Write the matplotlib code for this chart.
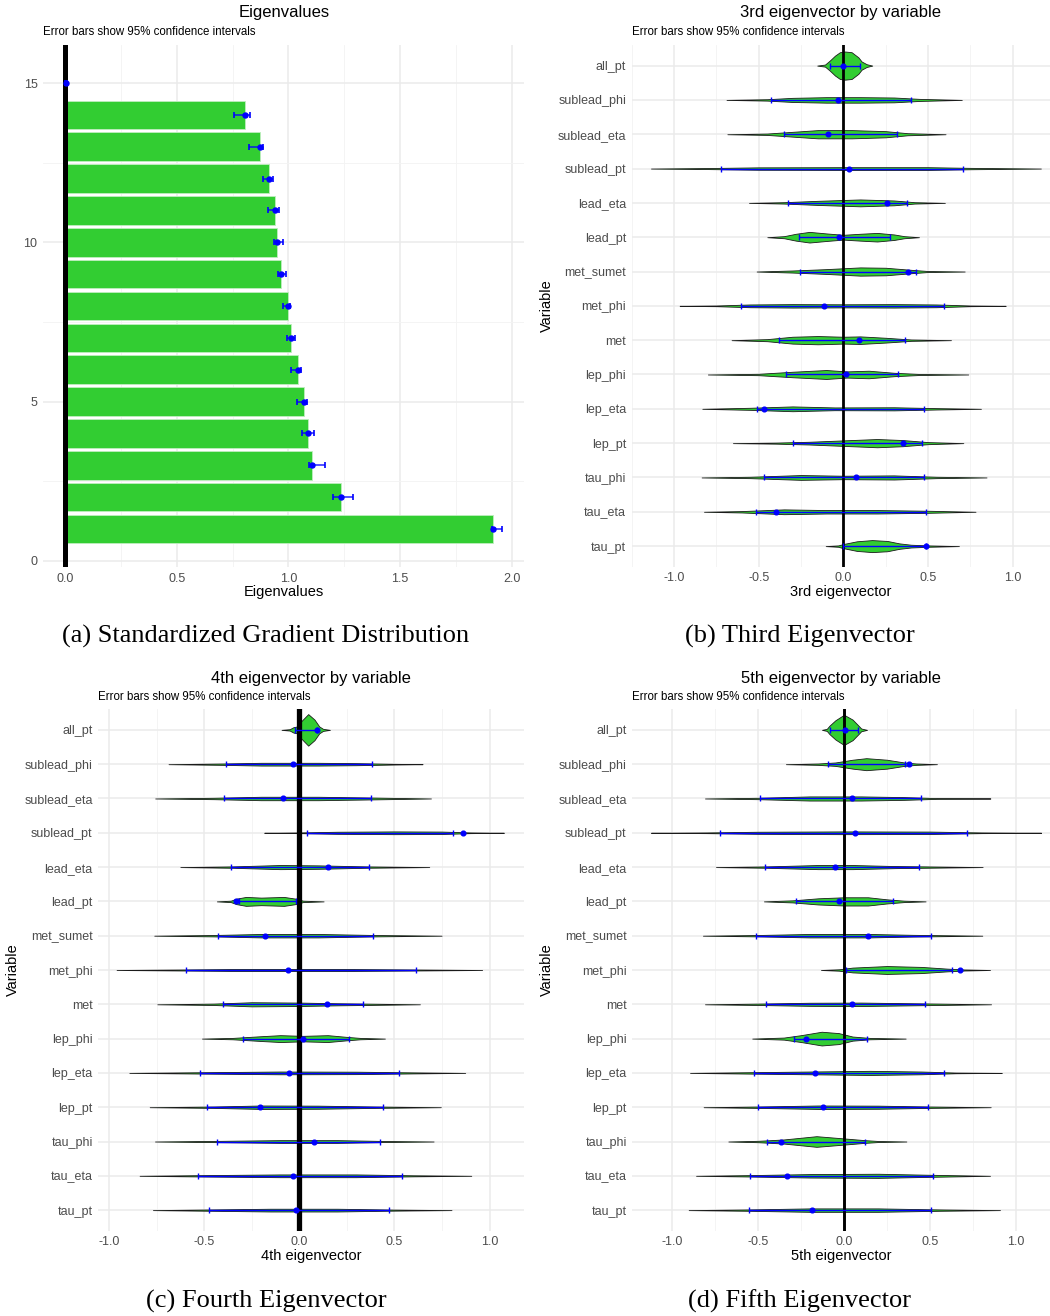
import matplotlib.pyplot as plt
import numpy as np
from matplotlib.ticker import MultipleLocator, FormatStrFormatter

plt.rcParams['font.family'] = ['Liberation Sans', 'DejaVu Sans']
plt.rcParams['axes.unicode_minus'] = False

# ---- data ----
rank = list(range(1, 16))
eig = [1.915, 1.235, 1.104, 1.088, 1.07, 1.044, 1.01, 0.999, 0.965, 0.947, 0.94, 0.914, 0.872, 0.805, 0.007]
eig_lo = [1.913, 1.20, 1.093, 1.06, 1.04, 1.01, 0.995, 0.976, 0.955, 0.935, 0.91, 0.886, 0.823, 0.757, 0.0]
eig_hi = [1.955, 1.29, 1.163, 1.115, 1.083, 1.056, 1.03, 1.008, 0.99, 0.975, 0.957, 0.932, 0.887, 0.826, 0.01]

variables = ['all_pt', 'sublead_phi', 'sublead_eta', 'sublead_pt', 'lead_eta', 'lead_pt',
             'met_sumet', 'met_phi', 'met', 'lep_phi', 'lep_eta', 'lep_pt',
             'tau_phi', 'tau_eta', 'tau_pt']

# violin outlines: (value, half width)
vec3_shape = [
    [(-0.154, 0), (-0.108, .03), (-0.079, .15), (-0.049, .29), (-0.02, .39), (0.01, .41), (0.049, .39), (0.089, .24), (0.108, .12), (0.138, .04), (0.171, 0)],
    [(-0.69, 0), (-0.45, .02), (-0.3, .06), (-0.1, .08), (0.1, .08), (0.3, .07), (0.45, .03), (0.70, 0)],
    [(-0.685, 0), (-0.45, .02), (-0.3, .07), (-0.15, .12), (0.05, .12), (0.25, .09), (0.38, .03), (0.604, 0)],
    [(-1.136, 0), (-0.8, .015), (-0.5, .035), (0.0, .04), (0.5, .04), (0.75, .02), (1.167, 0)],
    [(-0.557, 0), (-0.35, .02), (-0.15, .06), (0.1, .1), (0.3, .07), (0.42, .02), (0.6, 0)],
    [(-0.449, 0), (-0.35, .03), (-0.28, .1), (-0.2, .155), (-0.1, .11), (0.0, .07), (0.1, .1), (0.2, .125), (0.3, .08), (0.36, .03), (0.447, 0)],
    [(-0.512, 0), (-0.3, .03), (-0.1, .07), (0.1, .12), (0.25, .11), (0.4, .05), (0.5, .015), (0.717, 0)],
    [(-0.967, 0), (-0.75, .01), (-0.55, .04), (-0.3, .05), (0.0, .045), (0.3, .05), (0.55, .04), (0.75, .01), (0.959, 0)],
    [(-0.66, 0), (-0.45, .03), (-0.3, .1), (-0.15, .12), (0.0, .1), (0.1, .11), (0.25, .07), (0.4, .02), (0.636, 0)],
    [(-0.8, 0), (-0.5, .02), (-0.3, .08), (-0.1, .13), (0.02, .09), (0.15, .11), (0.3, .05), (0.45, .015), (0.738, 0)],
    [(-0.833, 0), (-0.55, .03), (-0.3, .07), (-0.05, .04), (0.3, .045), (0.55, .02), (0.813, 0)],
    [(-0.652, 0), (-0.4, .015), (-0.2, .04), (0.0, .08), (0.2, .12), (0.35, .09), (0.5, .03), (0.709, 0)],
    [(-0.837, 0), (-0.55, .02), (-0.25, .07), (0.0, .05), (0.3, .06), (0.55, .02), (0.846, 0)],
    [(-0.823, 0), (-0.6, .02), (-0.35, .07), (-0.1, .05), (0.2, .05), (0.5, .03), (0.781, 0)],
    [(-0.104, 0), (-0.03, .02), (0.0, .06), (0.08, .14), (0.17, .175), (0.26, .15), (0.33, .08), (0.4, .04), (0.5, .02), (0.683, 0)],
]
vec3_mean = [0.0, -0.033, -0.089, 0.035, 0.26, -0.024, 0.38, -0.114, 0.094, 0.016, -0.47, 0.354, 0.075, -0.40, 0.49]
vec3_lo = [-0.08, -0.43, -0.35, -0.72, -0.329, -0.264, -0.256, -0.604, -0.382, -0.337, -0.508, -0.30, -0.47, -0.518, 0.0]
vec3_hi = [0.10, 0.40, 0.32, 0.707, 0.374, 0.278, 0.43, 0.596, 0.366, 0.325, 0.474, 0.465, 0.478, 0.488, 0.49]

vec4_shape = [
    [(-0.093, 0), (-0.05, .02), (-0.03, .08), (-0.01, .1), (0.01, .25), (0.047, .46), (0.08, .3), (0.105, .1), (0.125, .03), (0.161, 0)],
    [(-0.687, 0), (-0.4, .02), (-0.2, .04), (0.1, .04), (0.3, .03), (0.5, .01), (0.648, 0)],
    [(-0.757, 0), (-0.45, .02), (-0.2, .05), (0.1, .05), (0.35, .03), (0.692, 0)],
    [(-0.184, 0), (0.0, .01), (0.2, .03), (0.5, .04), (0.75, .035), (0.9, .01), (1.075, 0)],
    [(-0.625, 0), (-0.35, .02), (-0.1, .06), (0.1, .05), (0.35, .02), (0.683, 0)],
    [(-0.433, 0), (-0.36, .02), (-0.33, .08), (-0.28, .13), (-0.2, .11), (-0.08, .13), (-0.02, .08), (0.02, .02), (0.128, 0)],
    [(-0.762, 0), (-0.45, .02), (-0.2, .05), (0.1, .05), (0.4, .02), (0.748, 0)],
    [(-0.96, 0), (-0.6, .015), (-0.3, .03), (0.2, .03), (0.6, .015), (0.961, 0)],
    [(-0.746, 0), (-0.45, .02), (-0.25, .06), (0.0, .05), (0.2, .03), (0.634, 0)],
    [(-0.511, 0), (-0.35, .02), (-0.2, .07), (-0.1, .1), (0.02, .08), (0.15, .1), (0.25, .05), (0.32, .02), (0.45, 0)],
    [(-0.893, 0), (-0.5, .02), (-0.1, .04), (0.3, .035), (0.6, .015), (0.872, 0)],
    [(-0.786, 0), (-0.45, .02), (-0.2, .05), (0.1, .045), (0.4, .02), (0.744, 0)],
    [(-0.758, 0), (-0.4, .02), (-0.1, .04), (0.2, .04), (0.45, .015), (0.706, 0)],
    [(-0.839, 0), (-0.5, .02), (-0.1, .04), (0.3, .04), (0.6, .015), (0.904, 0)],
    [(-0.769, 0), (-0.45, .02), (-0.15, .04), (0.2, .04), (0.5, .015), (0.80, 0)],
]
vec4_mean = [0.091, -0.035, -0.086, 0.862, 0.149, -0.334, -0.179, -0.06, 0.145, 0.018, -0.056, -0.207, 0.075, -0.033, -0.019]
vec4_lo = [-0.023, -0.384, -0.398, 0.039, -0.357, -0.315, -0.429, -0.597, -0.403, -0.294, -0.522, -0.485, -0.433, -0.534, -0.473]
vec4_hi = [0.091, 0.384, 0.377, 0.809, 0.368, -0.015, 0.385, 0.616, 0.333, 0.264, 0.522, 0.441, 0.426, 0.541, 0.469]

vec5_shape = [
    [(-0.128, 0), (-0.1, .03), (-0.085, .12), (-0.05, .28), (0.0, .44), (0.05, .3), (0.085, .12), (0.1, .04), (0.134, 0)],
    [(-0.338, 0), (-0.15, .02), (-0.05, .05), (0.05, .13), (0.13, .175), (0.25, .13), (0.35, .05), (0.42, .02), (0.541, 0)],
    [(-0.809, 0), (-0.5, .02), (-0.2, .06), (0.1, .06), (0.35, .04), (0.55, .01), (0.852, 0)],
    [(-1.123, 0), (-0.8, .01), (-0.5, .03), (0.0, .04), (0.5, .035), (0.8, .01), (1.147, 0)],
    [(-0.745, 0), (-0.45, .02), (-0.15, .06), (0.05, .06), (0.3, .03), (0.807, 0)],
    [(-0.466, 0), (-0.3, .03), (-0.15, .09), (0.0, .12), (0.14, .12), (0.25, .06), (0.35, .02), (0.475, 0)],
    [(-0.821, 0), (-0.5, .02), (-0.2, .05), (0.15, .05), (0.4, .025), (0.805, 0)],
    [(-0.134, 0), (-0.03, .02), (0.05, .07), (0.25, .115), (0.45, .09), (0.6, .04), (0.7, .015), (0.85, 0)],
    [(-0.809, 0), (-0.5, .02), (-0.2, .045), (0.1, .05), (0.4, .03), (0.856, 0)],
    [(-0.534, 0), (-0.35, .03), (-0.25, .1), (-0.13, .2), (-0.03, .16), (0.05, .06), (0.15, .02), (0.359, 0)],
    [(-0.896, 0), (-0.55, .02), (-0.2, .04), (0.15, .06), (0.45, .04), (0.65, .01), (0.918, 0)],
    [(-0.817, 0), (-0.5, .02), (-0.15, .05), (0.2, .045), (0.5, .02), (0.854, 0)],
    [(-0.673, 0), (-0.5, .02), (-0.35, .06), (-0.16, .155), (0.0, .09), (0.12, .04), (0.2, .015), (0.363, 0)],
    [(-0.861, 0), (-0.55, .02), (-0.2, .05), (0.2, .06), (0.5, .03), (0.85, 0)],
    [(-0.904, 0), (-0.55, .02), (-0.2, .05), (0.2, .05), (0.55, .02), (0.908, 0)],
]
vec5_mean = [0.008, 0.376, 0.047, 0.064, -0.054, -0.027, 0.14, 0.675, 0.047, -0.221, -0.171, -0.124, -0.365, -0.332, -0.188]
vec5_lo = [-0.08, -0.095, -0.491, -0.722, -0.462, -0.279, -0.51, 0.01, -0.452, -0.289, -0.522, -0.503, -0.446, -0.547, -0.555]
vec5_hi = [0.083, 0.357, 0.448, 0.714, 0.438, 0.287, 0.506, 0.629, 0.471, 0.136, 0.584, 0.491, 0.122, 0.518, 0.508]

GREEN = '#32CD32'
BLUE = '#0000FF'

W, H = 1050, 1316
fig = plt.figure(figsize=(10.5, 13.16), dpi=100)


def px_axes(l, t, r, b):
    return fig.add_axes([l / W, 1 - b / H, (r - l) / W, (b - t) / H])


def style(ax):
    for s in ax.spines.values():
        s.set_visible(False)
    ax.tick_params(which='both', length=0, labelsize=9, labelcolor='#4d4d4d', pad=4)
    ax.grid(True, which='major', color='#ebebeb', lw=1.1)
    ax.set_axisbelow(True)


def fig_text(x, y, s, **kw):
    fig.text(x / W, 1 - y / H, s, **kw)


def violin_panel(box, xlim, shapes, means, los, his, zlw, title, xlabel, cap_x, top):
    l, t, r, b = box
    ax = px_axes(l, t, r, b)
    style(ax)
    ax.xaxis.set_major_locator(MultipleLocator(0.5))
    ax.xaxis.set_minor_locator(MultipleLocator(0.25))
    ax.xaxis.set_major_formatter(FormatStrFormatter('%.1f'))
    ax.grid(True, which='minor', axis='x', color='#f3f3f3', lw=0.6)
    pos = [len(variables) - i for i in range(len(variables))]
    for p, shp in zip(pos, shapes):
        xs = np.array([k[0] for k in shp])
        ws = np.array([k[1] for k in shp])
        ax.fill_between(xs, p - ws, p + ws, facecolor=GREEN, edgecolor='#1a1a1a', lw=0.6, zorder=2)
    ax.axvline(0, color='black', lw=zlw, zorder=3)
    ax.hlines(pos, los, his, color=BLUE, lw=1.0, zorder=4)
    ax.plot(los, pos, ls='none', marker='|', ms=4.5, mew=1.0, color=BLUE, zorder=4)
    ax.plot(his, pos, ls='none', marker='|', ms=4.5, mew=1.0, color=BLUE, zorder=4)
    ax.plot(means, pos, ls='none', marker='o', ms=3.4, color=BLUE, zorder=5)
    ax.set_yticks(pos)
    ax.set_yticklabels(variables)
    ax.set_xlim(*xlim)
    ax.set_ylim(0.4, 15.6)
    cx = (l + r) / 2
    fig_text(cx, top + 13, title, fontsize=12, ha='center', va='center')
    fig_text(l, top + 32, 'Error bars show 95% confidence intervals', fontsize=8.3, ha='left', va='center')
    fig_text(cx, b + 25, xlabel, fontsize=10.5, ha='center', va='center')
    fig_text(cap_x, (t + b) / 2, 'Variable', fontsize=10.5, rotation=90, ha='center', va='center')
    return ax


# ---- (a) eigenvalues ----
ax = px_axes(43, 45, 524, 567)
style(ax)
ax.xaxis.set_major_locator(MultipleLocator(0.5))
ax.xaxis.set_minor_locator(MultipleLocator(0.25))
ax.yaxis.set_major_locator(MultipleLocator(5))
ax.yaxis.set_minor_locator(MultipleLocator(2.5))
ax.xaxis.set_major_formatter(FormatStrFormatter('%.1f'))
ax.grid(True, which='minor', color='#f3f3f3', lw=0.6)
ax.barh(rank, eig, height=0.9, color=GREEN, edgecolor='#bfeebf', lw=0.6, zorder=2)
ax.axvline(0, color='black', lw=3.6, zorder=3)
ax.hlines(rank, eig_lo, eig_hi, color=BLUE, lw=1.2, alpha=0.8, zorder=4)
ax.plot(eig_lo, rank, ls='none', marker='|', ms=5, mew=1.2, color=BLUE, zorder=4)
ax.plot(eig_hi, rank, ls='none', marker='|', ms=5, mew=1.2, color=BLUE, zorder=4)
ax.plot(eig, rank, ls='none', marker='o', ms=3.6, color=BLUE, zorder=5)
ax.set_xlim(-0.098, 2.054)
ax.set_ylim(-0.195, 16.195)
fig_text(284, 13, 'Eigenvalues', fontsize=12, ha='center', va='center')
fig_text(43, 32, 'Error bars show 95% confidence intervals', fontsize=8.3, ha='left', va='center')
fig_text(284, 592, 'Eigenvalues', fontsize=10.5, ha='center', va='center')

# ---- (b), (c), (d) ----
violin_panel((631.7, 45, 1050, 566.7), (-1.25, 1.221), vec3_shape, vec3_mean, vec3_lo, vec3_hi,
             2.0, '3rd eigenvector by variable', '3rd eigenvector', 547, 0)
violin_panel((98.3, 709.3, 524, 1230.7), (-1.056, 1.181), vec4_shape, vec4_mean, vec4_lo, vec4_hi,
             3.8, '4th eigenvector by variable', '4th eigenvector', 13, 665)
violin_panel((632.3, 709.3, 1050, 1230.7), (-1.232, 1.199), vec5_shape, vec5_mean, vec5_lo, vec5_hi,
             2.1, '5th eigenvector by variable', '5th eigenvector', 547, 665)

# ---- captions ----
cap = dict(family=['Liberation Serif', 'DejaVu Serif'], fontsize=19, ha='center', va='center')
fig_text(266, 636, '(a) Standardized Gradient Distribution', **cap)
fig_text(800, 636, '(b) Third Eigenvector', **cap)
fig_text(266, 1301, '(c) Fourth Eigenvector', **cap)
fig_text(800, 1301, '(d) Fifth Eigenvector', **cap)

fig.savefig('out.png', dpi=100, facecolor='white')
